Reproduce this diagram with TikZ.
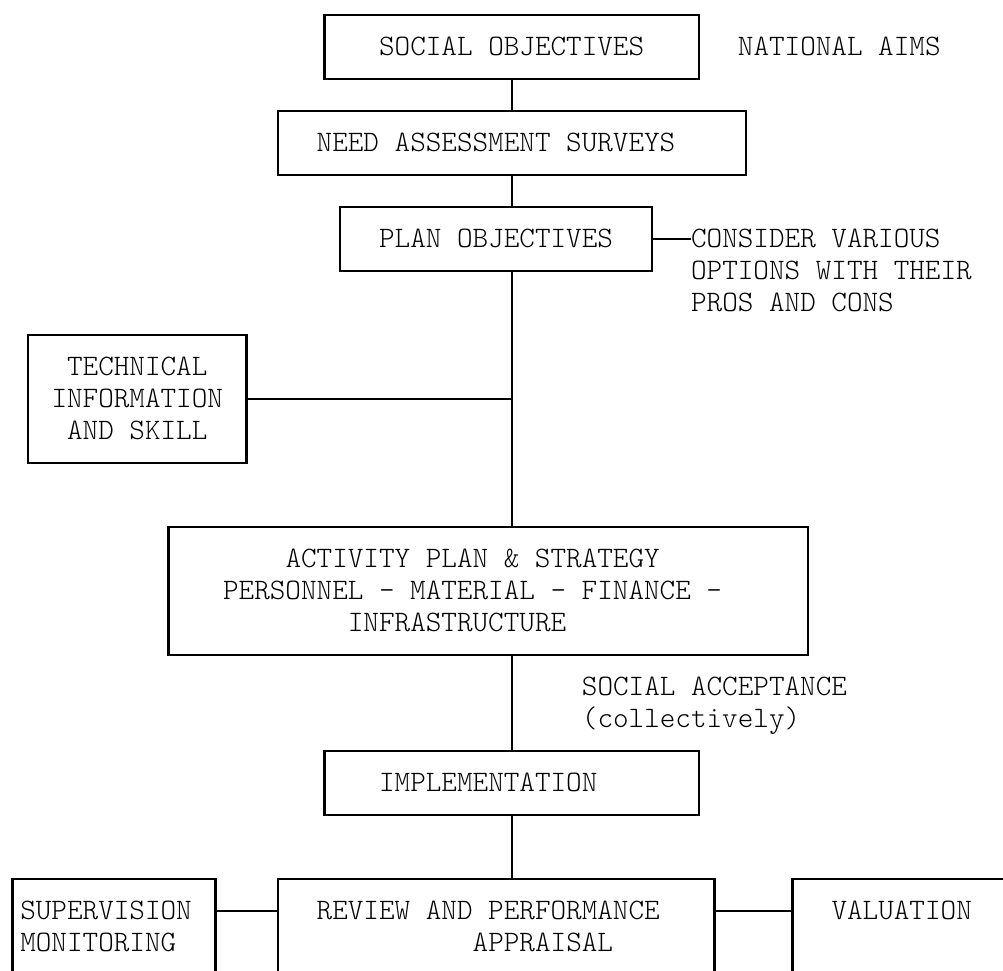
\documentclass[tikz,border=0pt]{standalone}
\usepackage{fontspec}
\newfontfamily\lmlight{Latin Modern Mono Light}
\usetikzlibrary{fit}
\begin{document}
\begin{tikzpicture}[x=15.6pt,y=-32pt,
  ln/.style={line width=2.4pt},
  box/.style={draw, line width=2.4pt, inner sep=0pt, outer sep=0pt},
  frame/.style={inner sep=0pt, outer sep=0pt},
  txt/.style={font=\lmlight\fontsize{29.7}{32}\selectfont, inner sep=0pt, outer sep=0pt, anchor=base west}]
\useasboundingbox (-12.5pt,15pt) rectangle (990.5pt,-955pt);
\coordinate (bot) at (0,29.9);
% boxes
\node[box, fit={(20,0) (44,2)}] (b1) {};
\node[box, fit={(17,3) (47,5)}] (b2) {};
\node[box, fit={(21,6) (41,8)}] (b3) {};
\node[box, fit={(1,10) (15,14)}] (tech) {};
\node[box, fit={(10,16) (51,20)}] (act) {};
\node[box, fit={(20,23) (44,25)}] (impl) {};
\node[frame, fit={(0,27) (13,29)}] (sup) {};
\node[frame, fit={(17,27) (45,29)}] (rev) {};
\node[frame, fit={(50,27) (63.6,29)}] (val) {};
\draw[ln] (sup.north west |- bot) -- (sup.north west) -- (sup.north east) -- (sup.north east |- bot);
\draw[ln] (rev.north west |- bot) -- (rev.north west) -- (rev.north east) -- (rev.north east |- bot);
\draw[ln] (val.north west |- bot) -- (val.north west) -- (val.north east);
% texts
\node[txt] (t1) at (23.5,1.28) {SOCIAL OBJECTIVES};
\node[txt] (nat) at (46.5,1.28) {NATIONAL AIMS};
\node[txt] (t2) at (19.5,4.28) {NEED ASSESSMENT SURVEYS};
\node[txt] (t3) at (23.5,7.28) {PLAN OBJECTIVES};
\node[txt] (cons1) at (43.5,7.28) {CONSIDER VARIOUS};
\node[txt] (cons2) at (43.5,8.28) {OPTIONS WITH THEIR};
\node[txt] (cons3) at (43.5,9.28) {PROS AND CONS};
\node[txt] (te1) at (3.5,11.28) {TECHNICAL};
\node[txt] (te2) at (2.5,12.28) {INFORMATION};
\node[txt] (te3) at (3.5,13.28) {AND SKILL};
\node[txt] (a1) at (17.5,17.28) {ACTIVITY PLAN \& STRATEGY};
\node[txt] (a2) at (13.5,18.28) {PERSONNEL - MATERIAL - FINANCE -};
\node[txt] (a3) at (21.5,19.28) {INFRASTRUCTURE};
\node[txt] (sa1) at (36.5,21.28) {SOCIAL ACCEPTANCE};
\node[txt] (sa2) at (36.5,22.28) {(collectively)};
\node[txt] (im) at (23.5,24.28) {IMPLEMENTATION};
\node[txt] (s1) at (0.5,28.28) {SUPERVISION};
\node[txt] (s2) at (0.5,29.28) {MONITORING};
\node[txt] (r1) at (19.5,28.28) {REVIEW AND PERFORMANCE};
\node[txt] (r2) at (29.5,29.28) {APPRAISAL};
\node[txt] (v1) at (52.5,28.28) {VALUATION};
% connectors
\draw[ln] (b1.south) -- (b2.north);
\draw[ln] (b2.south) -- (b2.south |- b3.north);
\draw[ln] (b2.south |- b3.south) -- (b2.south |- act.north);
\draw[ln] (tech.east) -- (tech.east -| b2.south);
\draw[ln] (b3.east) -- (cons1.west |- b3.east);
\draw[ln] (b2.south |- act.south) -- (impl.north);
\draw[ln] (impl.south) -- (impl.south |- rev.north);
\draw[ln] (sup.east) -- (rev.west);
\draw[ln] (rev.east) -- (val.west);
\end{tikzpicture}
\end{document}
